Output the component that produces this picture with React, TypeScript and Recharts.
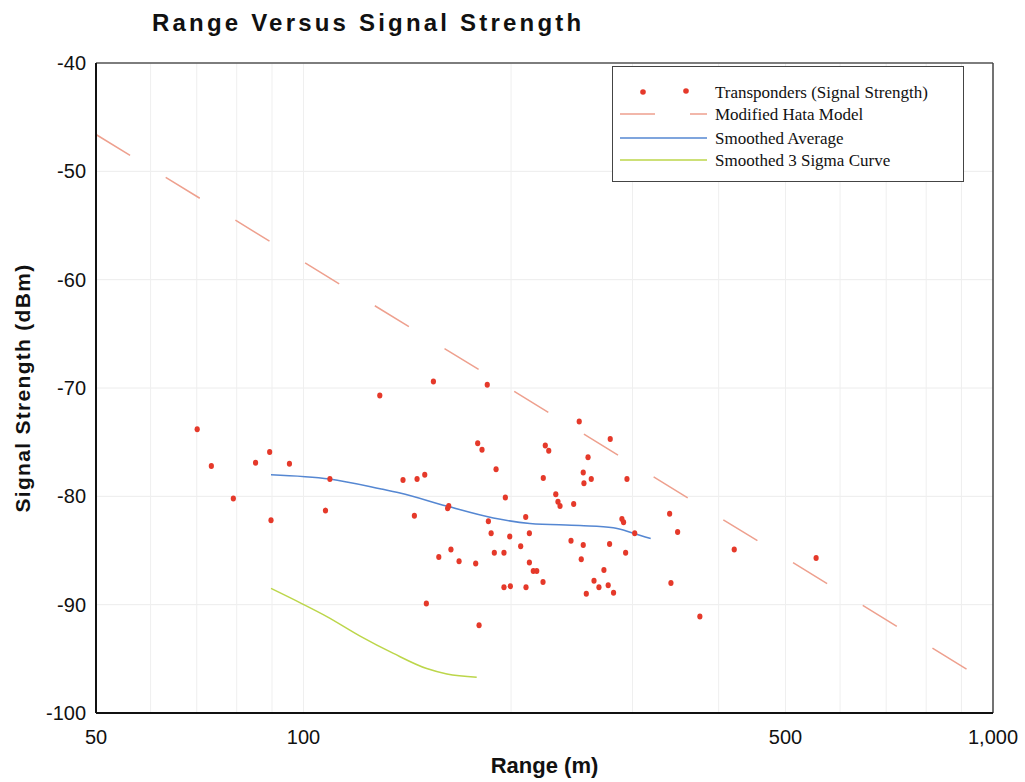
import React from 'react';
import {
  ComposedChart,
  Scatter,
  Line,
  XAxis,
  YAxis,
  CartesianGrid,
  ReferenceLine,
  Legend
} from 'recharts';

// Transponder measurements: range (m) and signal strength (dBm)
const transponderRange = [
  70.1, 73.5, 79.1, 85.2, 89.3, 89.7, 95.4, 107.6, 109.2, 129, 139.4, 144.8, 146.1, 149.9, 150.7,
  154.3, 157.1, 161.8, 162.4, 163.6, 168.1, 177.7, 178.9, 179.7, 181.5, 184.7, 185.4, 187.1, 189.1,
  190.2, 195.3, 195.3, 196.2, 199.1, 199.5, 206.5, 210, 210.2, 212.6, 212.6, 215.4, 217.9, 222.5,
  222.7, 224.2, 226.8, 232.2, 233.9, 235.5, 244.3, 246.5, 251.1, 252.8, 254.5, 254.5, 255.1, 257.1,
  258.6, 261.4, 263.8, 268.2, 272.7, 276.6, 277.9, 278.5, 281.6, 289.6, 291.2, 293.2, 294.5, 302.2,
  339.6, 341.1, 348.8, 375.7, 421.4, 553.9
];
const transponderSignal = [
  -73.8, -77.2, -80.2, -76.9, -75.9, -82.2, -77.0, -81.3, -78.4, -70.7, -78.5, -81.8, -78.4, -78.0, -89.9,
  -69.4, -85.6, -81.1, -80.9, -84.9, -86.0, -86.2, -75.1, -91.9, -75.7, -69.7, -82.3, -83.4, -85.2,
  -77.5, -85.2, -88.4, -80.1, -83.7, -88.3, -84.6, -81.9, -88.4, -83.4, -86.1, -86.9, -86.9, -87.9,
  -78.3, -75.3, -75.8, -79.8, -80.5, -80.9, -84.1, -80.7, -73.1, -85.8, -77.8, -84.5, -78.8, -89.0,
  -76.4, -78.4, -87.8, -88.4, -86.8, -88.2, -84.4, -74.7, -88.9, -82.1, -82.4, -85.2, -78.4, -83.4,
  -81.6, -88.0, -83.3, -91.1, -84.9, -85.7
];

// Modified Hata model (straight on the log range axis)
const hataRange = [50, 918];
const hataSignal = [-46.6, -96.0];

// Smoothed average
const avgRange = [89.7, 109.1, 129.1, 138, 161.3, 188.5, 213, 251.7, 281.3, 300.8, 318.8];
const avgSignal = [-78.0, -78.4, -79.3, -79.7, -80.9, -82.0, -82.5, -82.7, -82.9, -83.4, -83.9];

// Smoothed 3 sigma curve
const sigmaRange = [89.7, 99.4, 108.1, 120.8, 135, 150.9, 161.4, 178.3];
const sigmaSignal = [-88.5, -89.9, -91.1, -92.9, -94.5, -95.9, -96.4, -96.7];

const xTicks = [50, 100, 500, 1000];
const yTicks = [-100, -90, -80, -70, -60, -50, -40];
const xGridValues = [60, 70, 80, 90, 100, 200, 300, 400, 500, 600, 700, 800, 900];

const toPoints = (xs: number[], ys: number[]) => xs.map((x, i) => ({ x, y: ys[i] }));

const transponderData = toPoints(transponderRange, transponderSignal);
const hataData = toPoints(hataRange, hataSignal);
const avgData = toPoints(avgRange, avgSignal);
const sigmaData = toPoints(sigmaRange, sigmaSignal);

const SANS = "'Liberation Sans', Arial, Helvetica, sans-serif";
const SERIF = "'Liberation Serif', 'Times New Roman', serif";

const DOT_RED = '#e5392a';
const HATA = '#eea08e';
const BLUE = '#5587d2';
const GREEN = '#bcd64a';

const renderDot = (props: any) => {
  const { cx, cy } = props;
  if (cx == null || cy == null) return <g />;
  return <ellipse cx={cx} cy={cy} rx={2.6} ry={3} fill={DOT_RED} />;
};

const renderLegend = () => (
  <svg width={353} height={117} style={{ display: 'block' }}>
    <rect x={0.5} y={0.5} width={351} height={115} fill="#fff" stroke="#444" strokeWidth={1} />
    {/* scatter */}
    <circle cx={31} cy={26} r={2.8} fill={DOT_RED} />
    <circle cx={74} cy={25} r={2.8} fill={DOT_RED} />
    <text x={103} y={26} dominantBaseline="central" fontFamily={SERIF} fontSize={17} fill="#111">
      Transponders (Signal Strength)
    </text>
    {/* hata */}
    <line x1={8} y1={48} x2={95} y2={48} stroke={HATA} strokeWidth={1.5} strokeDasharray="35 35" />
    <text x={103} y={48} dominantBaseline="central" fontFamily={SERIF} fontSize={17} fill="#111">
      Modified Hata Model
    </text>
    {/* average */}
    <line x1={8} y1={72} x2={95} y2={72} stroke={BLUE} strokeWidth={1.5} />
    <text x={103} y={72} dominantBaseline="central" fontFamily={SERIF} fontSize={17} fill="#111">
      Smoothed Average
    </text>
    {/* 3 sigma */}
    <line x1={8} y1={94} x2={95} y2={94} stroke={GREEN} strokeWidth={1.5} />
    <text x={103} y={94} dominantBaseline="central" fontFamily={SERIF} fontSize={17} fill="#111">
      Smoothed 3 Sigma Curve
    </text>
  </svg>
);

const XTitle = (props: any) => {
  const { viewBox } = props;
  return (
    <text
      x={viewBox.x + viewBox.width / 2}
      y={viewBox.y + 60}
      textAnchor="middle"
      fontFamily={SANS}
      fontWeight="bold"
      fontSize={22}
      fill="#111"
    >
      Range (m)
    </text>
  );
};

const YTitle = (props: any) => {
  const { viewBox } = props;
  const cx = 22;
  const cy = viewBox.y + viewBox.height / 2;
  return (
    <text
      x={cx}
      y={cy}
      transform={`rotate(-90 ${cx} ${cy})`}
      textAnchor="middle"
      dominantBaseline="central"
      fontFamily={SANS}
      fontWeight="bold"
      fontSize={21}
      letterSpacing={1.3}
      fill="#111"
    >
      Signal Strength (dBm)
    </text>
  );
};

export default function App() {
  return (
    <div
      style={{
        position: 'absolute',
        left: 0,
        top: 0,
        width: 1025,
        height: 782,
        background: '#fff',
        overflow: 'hidden'
      }}
    >
      <div
        style={{
          position: 'absolute',
          left: 152,
          top: 11,
          fontFamily: SANS,
          fontWeight: 'bold',
          fontSize: 24,
          lineHeight: '24px',
          letterSpacing: 3.2,
          color: '#111',
          whiteSpace: 'nowrap',
          zIndex: 2
        }}
      >
        Range Versus Signal Strength
      </div>

      <ComposedChart width={1025} height={782} margin={{ top: 63, right: 32, bottom: 0, left: 0 }}>
        <CartesianGrid vertical={false} stroke="#ececec" />
        {xGridValues.map((v) => (
          <ReferenceLine key={v} x={v} stroke="#efefef" strokeWidth={1} />
        ))}
        <ReferenceLine y={-40} stroke="#555" strokeWidth={1.5} />
        <ReferenceLine x={1000} stroke="#444" strokeWidth={1.5} />

        <XAxis
          dataKey="x"
          type="number"
          scale="log"
          domain={[50, 1000]}
          ticks={xTicks}
          allowDataOverflow
          height={69}
          tickSize={0}
          tickMargin={17}
          tickLine={false}
          axisLine={{ stroke: '#111', strokeWidth: 2 }}
          tick={{ fill: '#111', fontSize: 20, fontFamily: SANS }}
          tickFormatter={(v: number) => v.toLocaleString('en-US')}
          label={<XTitle />}
        />
        <YAxis
          dataKey="y"
          type="number"
          domain={[-100, -40]}
          ticks={yTicks}
          width={96}
          tickSize={0}
          tickMargin={10}
          tickLine={false}
          axisLine={{ stroke: '#111', strokeWidth: 2 }}
          tick={{ fill: '#111', fontSize: 20, fontFamily: SANS }}
          label={<YTitle />}
        />

        <Line
          data={hataData}
          dataKey="y"
          type="linear"
          stroke={HATA}
          strokeWidth={1.5}
          strokeDasharray="40 41.8"
          dot={false}
          activeDot={false}
          isAnimationActive={false}
          name="Modified Hata Model"
        />
        <Line
          data={avgData}
          dataKey="y"
          type="monotone"
          stroke={BLUE}
          strokeWidth={1.5}
          dot={false}
          activeDot={false}
          isAnimationActive={false}
          name="Smoothed Average"
        />
        <Line
          data={sigmaData}
          dataKey="y"
          type="monotone"
          stroke={GREEN}
          strokeWidth={1.5}
          dot={false}
          activeDot={false}
          isAnimationActive={false}
          name="Smoothed 3 Sigma Curve"
        />
        <Scatter
          data={transponderData}
          dataKey="y"
          shape={renderDot}
          isAnimationActive={false}
          name="Transponders (Signal Strength)"
        />

        <Legend
          layout="horizontal"
          verticalAlign="middle"
          align="center"
          content={renderLegend}
          wrapperStyle={{ position: 'absolute', left: 612, top: 66, width: 353, height: 117 }}
        />
      </ComposedChart>
    </div>
  );
}
